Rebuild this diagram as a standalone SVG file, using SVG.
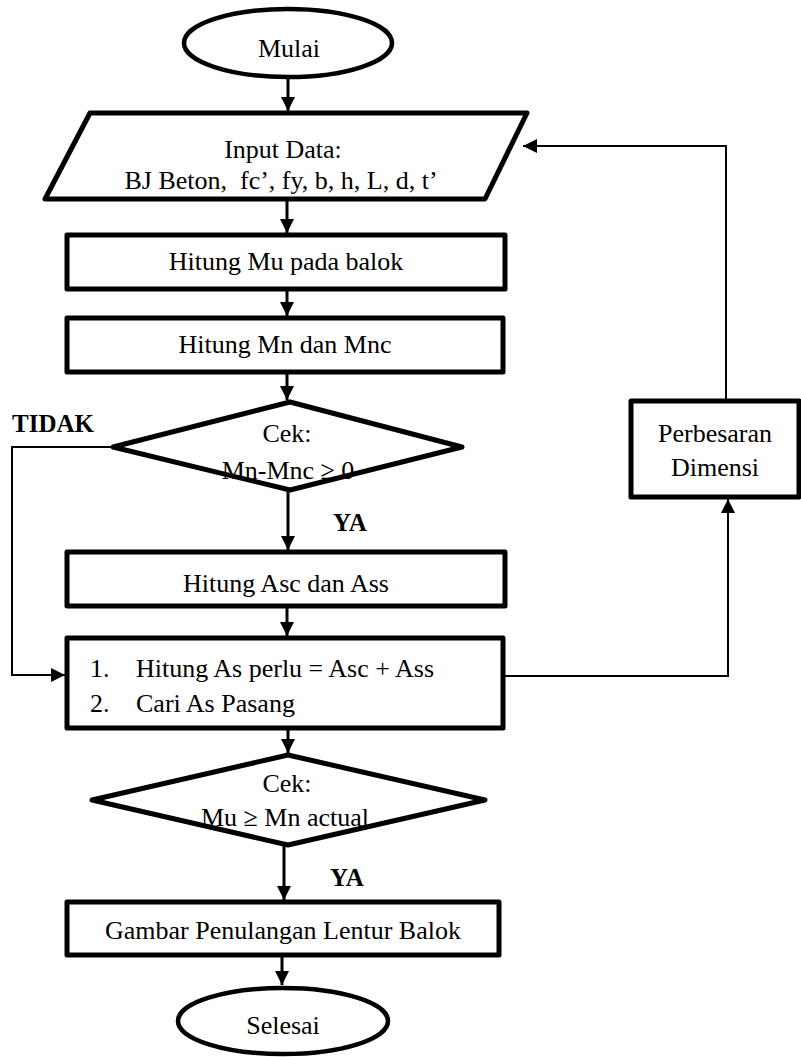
<svg xmlns="http://www.w3.org/2000/svg" width="801" height="1057" viewBox="0 0 801 1057">
  <defs>
    <marker id="arrow" viewBox="0 0 14 14" markerWidth="14" markerHeight="14" refX="14" refY="7" orient="auto" markerUnits="userSpaceOnUse">
      <path d="M0,0 L14,7 L0,14 z" fill="#000"/>
    </marker>
  </defs>
  <style>
    .shape{fill:#fff;stroke:#000;stroke-width:5;stroke-linejoin:round}
    .term{fill:#fff;stroke:#000;stroke-width:4.5}
    .t{font-family:"Liberation Serif","Times New Roman",serif;font-size:26px;fill:#000;text-anchor:middle}
    .ts{font-family:"Liberation Serif","Times New Roman",serif;font-size:26px;fill:#000}
    .lbl{font-family:"Liberation Serif","Times New Roman",serif;font-size:25px;font-weight:bold;fill:#000}
    .flow{fill:none;stroke:#000;stroke-width:3}
    .loop{fill:none;stroke:#000;stroke-width:2}
  </style>
  <rect width="801" height="1057" fill="#fff"/>

  <g id="connectors">
    <path class="flow" d="M288,78 L288,111" marker-end="url(#arrow)"/>
    <path class="flow" d="M287,199 L287,233" marker-end="url(#arrow)"/>
    <path class="flow" d="M287,289 L287,316" marker-end="url(#arrow)"/>
    <path class="flow" d="M287,372 L287,400" marker-end="url(#arrow)"/>
    <path class="flow" d="M288,490 L288,550" marker-end="url(#arrow)"/>
    <path class="flow" d="M287,606 L287,636" marker-end="url(#arrow)"/>
    <path class="flow" d="M288,728 L288,753" marker-end="url(#arrow)"/>
    <path class="flow" d="M284,845 L284,900" marker-end="url(#arrow)"/>
    <path class="flow" d="M282,955 L282,985" marker-end="url(#arrow)"/>
    <path class="loop" d="M113,447 L12,447 L12,675 L65,675" marker-end="url(#arrow)"/>
    <path class="loop" d="M503,676 L728,676 L728,499" marker-end="url(#arrow)"/>
    <path class="loop" d="M726,401 L726,146 L523,146" marker-end="url(#arrow)"/>
    <text class="lbl" x="12" y="432">TIDAK</text>
    <text class="lbl" x="333" y="531">YA</text>
    <text class="lbl" x="330" y="886">YA</text>
  </g>

  <g id="start">
    <ellipse class="term" cx="288" cy="43" rx="104" ry="34"/>
    <text class="t" x="289" y="57">Mulai</text>
  </g>

  <g id="input">
    <polygon class="shape" points="90,113 527,113 485,199 45,199"/>
    <text class="t" x="283" y="158">Input Data:</text>
    <text class="t" x="281" y="189" xml:space="preserve">BJ Beton,  fc’, fy, b, h, L, d, t’</text>
  </g>

  <g id="hitung-mu">
    <rect class="shape" x="67" y="235" width="438" height="54"/>
    <text class="t" x="286" y="270">Hitung Mu pada balok</text>
  </g>

  <g id="hitung-mn">
    <rect class="shape" x="67" y="318" width="436" height="54"/>
    <text class="t" x="285" y="353">Hitung Mn dan Mnc</text>
  </g>

  <g id="cek-mn">
    <polygon class="shape" points="290,402 462,447 290,490 113,447"/>
    <text class="t" x="287" y="442">Cek:</text>
    <text class="t" x="288" y="479">Mn-Mnc ≥ 0</text>
  </g>

  <g id="perbesaran">
    <rect class="shape" x="631" y="401" width="168" height="96"/>
    <text class="t" x="715" y="442">Perbesaran</text>
    <text class="t" x="715" y="476">Dimensi</text>
  </g>

  <g id="hitung-as">
    <rect class="shape" x="67" y="552" width="438" height="54"/>
    <text class="t" x="286" y="592">Hitung Asc dan Ass</text>
  </g>

  <g id="as-perlu">
    <rect class="shape" x="67" y="638" width="436" height="90"/>
    <text class="ts" x="90" y="677">1.</text>
    <text class="ts" x="136" y="677">Hitung As perlu = Asc + Ass</text>
    <text class="ts" x="90" y="712">2.</text>
    <text class="ts" x="136" y="712">Cari As Pasang</text>
  </g>

  <g id="cek-mu">
    <polygon class="shape" points="288,755 485,800 288,845 92,800"/>
    <text class="t" x="287" y="792">Cek:</text>
    <text class="t" x="285" y="826">Mu ≥ Mn actual</text>
  </g>

  <g id="gambar">
    <rect class="shape" x="67" y="902" width="432" height="53"/>
    <text class="t" x="283" y="939">Gambar Penulangan Lentur Balok</text>
  </g>

  <g id="end">
    <ellipse class="term" cx="283" cy="1021" rx="105" ry="33"/>
    <text class="t" x="283" y="1034">Selesai</text>
  </g>
</svg>
